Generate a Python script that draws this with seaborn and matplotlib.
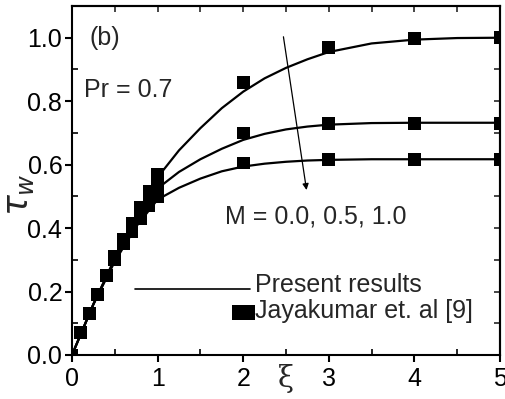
import numpy as np
import pandas as pd
import matplotlib
matplotlib.use("Agg")
import matplotlib.pyplot as plt
import seaborn as sns
from matplotlib.legend_handler import HandlerBase
from matplotlib.patches import Rectangle
from matplotlib.lines import Line2D

# ---- data ----
M_values = ["0.0", "0.5", "1.0"]

xi_curve = [0.0, 0.25, 0.5, 0.75, 1.0, 1.25, 1.5, 1.75, 2.0, 2.25, 2.5, 2.75, 3.0, 3.5, 4.0, 4.5, 5.0]
tau_curve_M00 = [0.0, 0.16, 0.305, 0.435, 0.56, 0.645, 0.715, 0.778, 0.83, 0.872, 0.905, 0.932, 0.955, 0.982, 0.994, 0.999, 1.0]
tau_curve_M05 = [0.0, 0.16, 0.30, 0.42, 0.525, 0.577, 0.617, 0.65, 0.678, 0.697, 0.711, 0.72, 0.726, 0.731, 0.732, 0.732, 0.732]
tau_curve_M10 = [0.0, 0.16, 0.295, 0.405, 0.49, 0.527, 0.556, 0.579, 0.594, 0.603, 0.609, 0.613, 0.615, 0.617, 0.617, 0.617, 0.617]

xi_exp = [0.0, 0.1, 0.2, 0.3, 0.4, 0.5, 0.6, 0.7, 0.8, 0.9, 1.0, 2.0, 3.0, 4.0, 5.0]
tau_exp_M00 = [0.0, 0.07, 0.13, 0.19, 0.25, 0.31, 0.365, 0.415, 0.465, 0.515, 0.568, 0.86, 0.97, 0.997, 1.0]
tau_exp_M05 = [0.0, 0.07, 0.13, 0.19, 0.25, 0.305, 0.355, 0.40, 0.45, 0.495, 0.535, 0.70, 0.73, 0.73, 0.73]
tau_exp_M10 = [0.0, 0.07, 0.13, 0.19, 0.25, 0.30, 0.35, 0.39, 0.43, 0.47, 0.50, 0.605, 0.615, 0.615, 0.615]

curve_df = pd.DataFrame({
    "xi": xi_curve * 3,
    "tau": tau_curve_M00 + tau_curve_M05 + tau_curve_M10,
    "M": [M_values[0]] * len(xi_curve) + [M_values[1]] * len(xi_curve) + [M_values[2]] * len(xi_curve),
})
exp_df = pd.DataFrame({
    "xi": xi_exp * 3,
    "tau": tau_exp_M00 + tau_exp_M05 + tau_exp_M10,
    "M": [M_values[0]] * len(xi_exp) + [M_values[1]] * len(xi_exp) + [M_values[2]] * len(xi_exp),
})

sns.set_style("ticks")
plt.rcParams["font.family"] = ["Liberation Sans", "DejaVu Sans"]

fig = plt.figure(figsize=(5.06, 3.99), dpi=100)
ax = fig.add_axes([72 / 506, 1 - 355 / 399, (500 - 72) / 506, (355 - 6) / 399])

pal = {m: "black" for m in M_values}
sns.lineplot(data=curve_df, x="xi", y="tau", hue="M", palette=pal, lw=1.6,
             legend=False, ax=ax, zorder=2)
sns.scatterplot(data=exp_df, x="xi", y="tau", hue="M", palette=pal, marker="s",
                s=85, edgecolor="black", linewidth=0, legend=False, ax=ax, zorder=3)

ax.set_xlim(0, 5)
ax.set_ylim(0, 1.1)
ax.set_xticks([0, 1, 2, 3, 4, 5])
ax.set_xticks(np.arange(0, 5.01, 0.5), minor=True)
ax.set_yticks([0.0, 0.2, 0.4, 0.6, 0.8, 1.0])
ax.set_yticklabels(["0.0", "0.2", "0.4", "0.6", "0.8", "1.0"])
ax.set_yticks(np.arange(0, 1.101, 0.1), minor=True)
ax.set_xticklabels(["0", "1", "2", "3", "4", "5"])

for s in ax.spines.values():
    s.set_visible(True)
    s.set_linewidth(1.5)
    s.set_color("black")

FS = 18
ax.tick_params(which="major", direction="out", length=5, width=1.5, labelsize=FS,
               colors="black", pad=2)
ax.tick_params(axis="x", which="major", pad=4)
ax.tick_params(which="minor", direction="in", length=4, width=1.2, colors="black")

secx = ax.secondary_xaxis("top")
secx.set_xticks([0, 1, 2, 3, 4, 5])
secx.set_xticks(np.arange(0, 5.01, 0.5), minor=True)
secx.tick_params(which="both", direction="in", length=4, width=1.2, labeltop=False)
secy = ax.secondary_yaxis("right")
secy.set_yticks([0.0, 0.2, 0.4, 0.6, 0.8, 1.0])
secy.set_yticks(np.arange(0, 1.101, 0.1), minor=True)
secy.tick_params(which="both", direction="in", length=4, width=1.2, labelright=False)
for sec in (secx, secy):
    for s in sec.spines.values():
        s.set_linewidth(1.5)

ax.set_xlabel("ξ", fontsize=21, family=["DejaVu Serif"])
ax.xaxis.set_label_coords(0.5, -0.025)
ax.set_ylabel(r"$\tau_w$", fontsize=25)
ax.yaxis.set_label_coords(-0.085, 0.46)

ax.text(0.2, 1.0, "(b)", fontsize=FS, ha="left", va="center")
ax.text(0.14, 0.835, "Pr = 0.7", fontsize=FS, ha="left", va="center")
ax.text(1.79, 0.435, "M = 0.0, 0.5, 1.0", fontsize=FS, ha="left", va="center")
ax.annotate("", xy=(2.74, 0.52), xytext=(2.47, 1.003),
            arrowprops=dict(arrowstyle="-|>", color="black", lw=0.9,
                            mutation_scale=9, shrinkA=0, shrinkB=0))


class RectHandler(HandlerBase):
    def create_artists(self, legend, orig_handle, xdescent, ydescent, width, height,
                       fontsize, trans):
        w = 23 * 72 / 100
        h = 15 * 72 / 100
        r = Rectangle((width - xdescent - w + 4, height / 2 - ydescent - h / 2 - 2), w, h,
                      facecolor="black", edgecolor="none", transform=trans)
        return [r]


class LineHandler(HandlerBase):
    def create_artists(self, legend, orig_handle, xdescent, ydescent, width, height,
                       fontsize, trans):
        y = height / 2 - ydescent - 4
        ln = Line2D([-xdescent, width - xdescent], [y, y], color="black", lw=1.2,
                    transform=trans)
        return [ln]


h_line = Line2D([], [], color="black")
h_rect = Rectangle((0, 0), 1, 1, color="black")
ax.legend([h_line, h_rect], ["Present results", "Jayakumar et. al [9]"],
          handler_map={Line2D: LineHandler(), Rectangle: RectHandler()},
          loc="upper left", bbox_to_anchor=(0.147, 0.235), frameon=False,
          fontsize=FS, handlelength=4.6, handletextpad=0.2, labelspacing=0.1,
          borderaxespad=0, borderpad=0)

fig.savefig("out.png", dpi=100)
